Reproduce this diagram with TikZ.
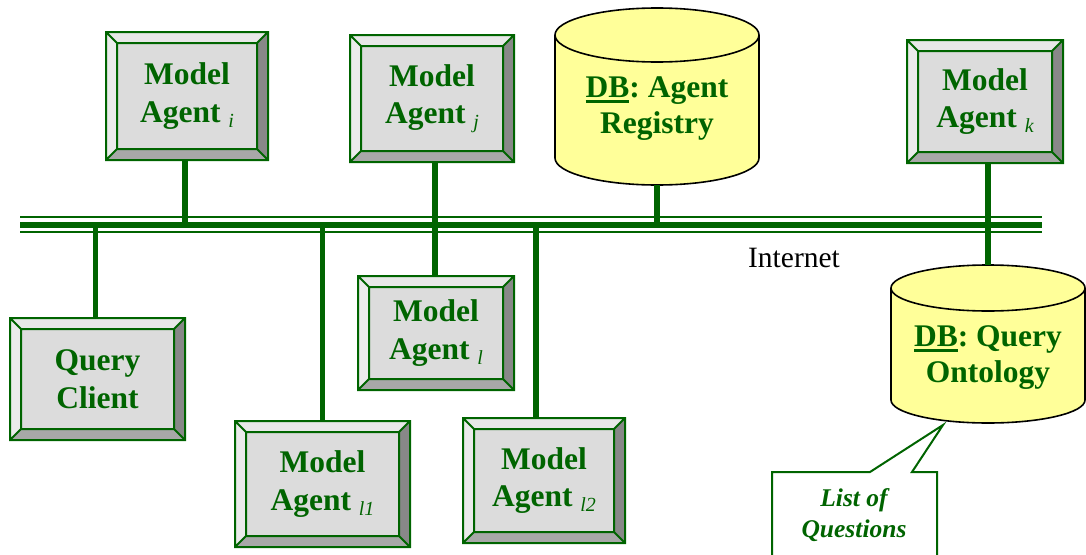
\documentclass[tikz,border=0pt]{standalone}
\usepackage{fontspec}
\setmainfont{Liberation Serif}
\definecolor{dg}{HTML}{006400}
\definecolor{bvin}{HTML}{DCDCDC}
\definecolor{bvtop}{HTML}{E8E8E8}
\definecolor{bvleft}{HTML}{EBEBEB}
\definecolor{bvright}{HTML}{888888}
\definecolor{bvbot}{HTML}{A8A8A8}
\definecolor{dbfill}{HTML}{FFFF99}
\tikzset{
  boxline/.style={draw=dg, line width=2pt, line join=miter},
  boxtext/.style={inner sep=0pt, text=dg, align=center, font=\fontsize{31.5}{37.5}\selectfont\bfseries},
  dbline/.style={fill=dbfill, draw=black, line width=1.6pt},
  dbedge/.style={draw=black, line width=1.6pt},
  dbtext/.style={inner sep=0pt, text=dg, align=center, font=\fontsize{31.5}{36}\selectfont\bfseries},
  anchorbox/.style={inner sep=0pt, draw=none},
  wire/.style={draw=dg, line width=5.5pt},
  busthin/.style={draw=dg, line width=2.6pt},
  busthick/.style={draw=dg, line width=6.5pt},
  callout/.style={draw=dg, line width=2pt, fill=white},
  callouttext/.style={text=dg, align=center, font=\fontsize{25.5}{31}\selectfont\bfseries\itshape},
  nettext/.style={text=black, font=\fontsize{29.5}{34}\selectfont},
}
\newcommand\agsub[1]{{\fontsize{20}{20}\selectfont\mdseries\itshape\raisebox{-5pt}{#1}}}
\newcommand\bunder[1]{\setbox0\hbox{#1}\rlap{\rule[-5pt]{\wd0}{3pt}}#1}
\newcommand\bevelbox[6]{%
  \fill[bvin] (#2,#3) rectangle (#4,#5);
  \fill[bvtop] (#2,#3) -- (#4,#3) -- ({#4-11},{#3+11}) -- ({#2+11},{#3+11}) -- cycle;
  \fill[bvleft] (#2,#3) -- ({#2+11},{#3+11}) -- ({#2+11},{#5-11}) -- (#2,#5) -- cycle;
  \fill[bvright] (#4,#3) -- ({#4-11},{#3+11}) -- ({#4-11},{#5-11}) -- (#4,#5) -- cycle;
  \fill[bvbot] (#2,#5) -- ({#2+11},{#5-11}) -- ({#4-11},{#5-11}) -- (#4,#5) -- cycle;
  \draw[boxline] (#2,#3) rectangle (#4,#5) ({#2+11},{#3+11}) rectangle ({#4-11},{#5-11})
    (#2,#3) -- ({#2+11},{#3+11}) (#4,#3) -- ({#4-11},{#3+11})
    (#2,#5) -- ({#2+11},{#5-11}) (#4,#5) -- ({#4-11},{#5-11});
  \node[boxtext, minimum width={#4-#2}, minimum height={#5-#3}] (#1) at ({(#2+#4)/2},{(#3+#5)/2}) {#6};
}
% name, cx, ytop, ybot, rx, ry
\newcommand\dbcyl[6]{%
  \path[dbline] ({#2-#5},{#3+#6}) -- ({#2-#5},{#4-#6})
    arc[start angle=180, end angle=360, x radius=#5pt, y radius=#6pt]
    -- ({#2+#5},{#3+#6})
    arc[start angle=0, end angle=180, x radius=#5pt, y radius=#6pt] -- cycle;
  \draw[dbedge] ({#2-#5},{#3+#6}) arc[start angle=180, end angle=360, x radius=#5pt, y radius=#6pt];
  \node[anchorbox, minimum width={2*#5}, minimum height={#4-#3}] (#1) at (#2,{(#3+#4)/2}) {};
}
\begin{document}
\begin{tikzpicture}[x=1pt, y=-1pt]
\useasboundingbox (0,0) rectangle (1086,554);
\clip (0,0) rectangle (1086,554);

% bus
\coordinate (busL) at (20,225);
\coordinate (busR) at (1042,225);
\draw[busthin] ([yshift=8pt]busL) -- ([yshift=8pt]busR);
\draw[busthick] (busL) -- (busR);
\draw[busthin] ([yshift=-7pt]busL) -- ([yshift=-7pt]busR);

% boxes
\bevelbox{mai}{106}{32}{268}{160}{Model\\Agent \agsub{i}}
\bevelbox{maj}{350}{35}{514}{162}{Model\\Agent \agsub{j}}
\bevelbox{mak}{907}{40}{1063}{163}{Model\\Agent \agsub{k}}
\bevelbox{qc}{10}{318}{185}{440}{Query\\Client}
\bevelbox{mal}{358}{276}{514}{390}{Model\\Agent \agsub{l}}
\bevelbox{mal1}{235}{421}{410}{547}{Model\\Agent \agsub{l1}}
\bevelbox{mal2}{463}{418}{625}{543}{Model\\Agent \agsub{l2}}

% databases
\dbcyl{reg}{657}{8}{185}{102}{27}
\node[dbtext] (regtext) at (657,109) {\bunder{DB}: Agent\\Registry};
\dbcyl{ont}{988}{265}{423}{97}{23}
\node[dbtext] (onttext) at (988,358) {\bunder{DB}: Query\\Ontology};

% connectors
\draw[wire] ([xshift=-2pt]mai.south) -- ([xshift=-2pt]mai.south |- busL);
\draw[wire] ([xshift=-1pt]mal.north) -- ([xshift=-1pt]mal.north |- maj.south);
\draw[wire] (reg.south) -- (reg.south |- busL);
\draw[wire] (ont.north) -- (ont.north |- mak.south);
\draw[wire] ([xshift=-2pt]qc.north) -- ([xshift=-2pt]qc.north |- busL);
\draw[wire] (mal1.north) -- (mal1.north |- busL);
\draw[wire] ([xshift=-8pt]mal2.north) -- ([xshift=-8pt]mal2.north |- busL);

% internet label
\node[nettext] (net) at (794,258) {Internet};

% callout
\coordinate (tip) at (943,425);
\draw[callout] (772,472) -- (870,472) -- (tip) -- (912,472) -- (937,472) -- (937,570) -- (772,570) -- cycle;
\node[callouttext] (lq) at (854,515) {List of\\Questions};
\end{tikzpicture}
\end{document}
